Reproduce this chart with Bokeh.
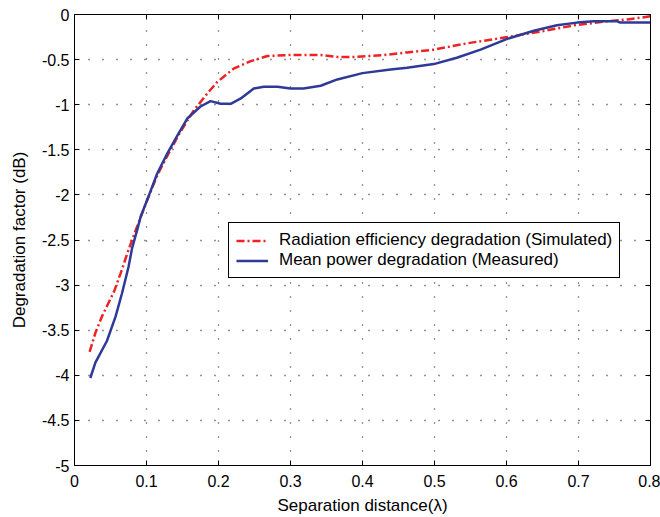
from bokeh.plotting import figure
from bokeh.models import Range1d, FixedTicker, LinearAxis, Legend, LegendItem
from bokeh.embed import file_html
from bokeh.resources import INLINE

# ---- data ----
sim_x = [0.021, 0.029, 0.038, 0.055, 0.064, 0.075, 0.085, 0.100, 0.115, 0.130,
         0.145, 0.158, 0.166, 0.184, 0.198, 0.221, 0.244, 0.268, 0.295, 0.342,
         0.365, 0.388, 0.430, 0.462, 0.499, 0.545, 0.601, 0.647, 0.694, 0.740,
         0.768, 0.800]
sim_y = [-3.74, -3.53, -3.35, -3.07, -2.87, -2.61, -2.39, -2.08, -1.78, -1.55,
         -1.33, -1.16, -1.06, -0.88, -0.75, -0.60, -0.52, -0.46, -0.45, -0.45,
         -0.47, -0.47, -0.45, -0.42, -0.39, -0.32, -0.25, -0.19, -0.12, -0.075,
         -0.055, -0.02]

meas_x = [0.022, 0.029, 0.045, 0.057, 0.066, 0.075, 0.080, 0.087, 0.092, 0.106,
          0.115, 0.129, 0.143, 0.157, 0.175, 0.189, 0.203, 0.217, 0.231, 0.249,
          0.263, 0.282, 0.300, 0.318, 0.342, 0.365, 0.400, 0.439, 0.462, 0.499,
          0.531, 0.564, 0.601, 0.638, 0.670, 0.698, 0.721, 0.754, 0.758, 0.800]
meas_y = [-4.03, -3.86, -3.62, -3.35, -3.09, -2.80, -2.59, -2.39, -2.24, -1.95,
          -1.76, -1.54, -1.34, -1.15, -1.02, -0.96, -0.99, -0.99, -0.93, -0.82,
          -0.80, -0.80, -0.82, -0.82, -0.79, -0.72, -0.65, -0.61, -0.59, -0.55,
          -0.48, -0.39, -0.27, -0.18, -0.12, -0.09, -0.075, -0.075, -0.09, -0.09]

x_ticks = [0, 0.1, 0.2, 0.3, 0.4, 0.5, 0.6, 0.7, 0.8]
x_tick_labels = ["0", "0.1", "0.2", "0.3", "0.4", "0.5", "0.6", "0.7", "0.8"]
y_ticks = [0, -0.5, -1, -1.5, -2, -2.5, -3, -3.5, -4, -4.5, -5]
y_tick_labels = ["0", "-0.5", "-1", "-1.5", "-2", "-2.5", "-3", "-3.5", "-4", "-4.5", "-5"]

sim_label = "Radiation efficiency degradation (Simulated)"
meas_label = "Mean power degradation (Measured)"
x_title = "Separation distance(\u03bb)"
y_title = "Degradation factor (dB)"

FONT = "Liberation Sans"

p = figure(width=660, height=517, output_backend="svg", toolbar_location=None,
           x_range=Range1d(0, 0.8), y_range=Range1d(-5, 0),
           min_border_left=74, min_border_right=10, min_border_top=14,
           min_border_bottom=52)
p.background_fill_color = "white"
p.border_fill_color = "white"
p.outline_line_color = "black"
p.outline_line_width = 1

xt = FixedTicker(ticks=x_ticks, minor_ticks=[])
yt = FixedTicker(ticks=y_ticks, minor_ticks=[])

def style_axis(ax, show_labels):
    ax.axis_line_color = "black"
    ax.axis_line_width = 1
    ax.major_tick_in = 5
    ax.major_tick_out = 0
    ax.minor_tick_line_color = None
    ax.major_tick_line_color = "black"
    if show_labels:
        ax.major_label_text_font = FONT
        ax.major_label_text_font_size = "16px"
        ax.major_label_text_color = "black"
        ax.axis_label_text_font = FONT
        ax.axis_label_text_font_size = "17px"
        ax.axis_label_text_font_style = "normal"
        ax.axis_label_text_color = "black"
    else:
        ax.major_label_text_color = None
        ax.major_label_standoff = 0

xa = p.xaxis[0]
xa.ticker = xt
xa.major_label_overrides = dict(zip(x_ticks, x_tick_labels))
xa.axis_label = x_title
xa.major_label_standoff = 9
xa.axis_label_standoff = 6
style_axis(xa, True)

ya = p.yaxis[0]
ya.ticker = yt
ya.major_label_overrides = dict(zip(y_ticks, y_tick_labels))
ya.axis_label = y_title
ya.major_label_standoff = 5
ya.axis_label_standoff = 10
style_axis(ya, True)

top = LinearAxis(ticker=xt)
style_axis(top, False)
p.add_layout(top, "above")
right = LinearAxis(ticker=yt)
style_axis(right, False)
p.add_layout(right, "right")

for g in (p.xgrid[0], p.ygrid[0]):
    g.grid_line_color = "black"
    g.grid_line_alpha = 0.85
    g.grid_line_dash = "1 13"
    g.grid_line_width = 1.3
p.xgrid[0].ticker = xt
p.ygrid[0].ticker = yt

r_sim = p.line(sim_x, sim_y, line_color="#ee2222", line_width=2.5, line_dash="8 3 2 3")
r_meas = p.line(meas_x, meas_y, line_color="#2e3a96", line_width=2.5)

legend = Legend(items=[LegendItem(label=sim_label, renderers=[r_sim]),
                       LegendItem(label=meas_label, renderers=[r_meas])],
                location=(154, 187))
legend.label_text_font = FONT
legend.label_text_font_size = "17px"
legend.label_text_color = "black"
legend.border_line_color = "black"
legend.border_line_width = 1
legend.border_line_alpha = 1
legend.background_fill_color = "white"
legend.background_fill_alpha = 1
legend.padding = 7
legend.spacing = 0
legend.margin = 0
legend.glyph_width = 32
legend.glyph_height = 19
legend.label_height = 19
legend.label_standoff = 11
p.add_layout(legend, "center")

open("out.html", "w").write(file_html(p, INLINE))
